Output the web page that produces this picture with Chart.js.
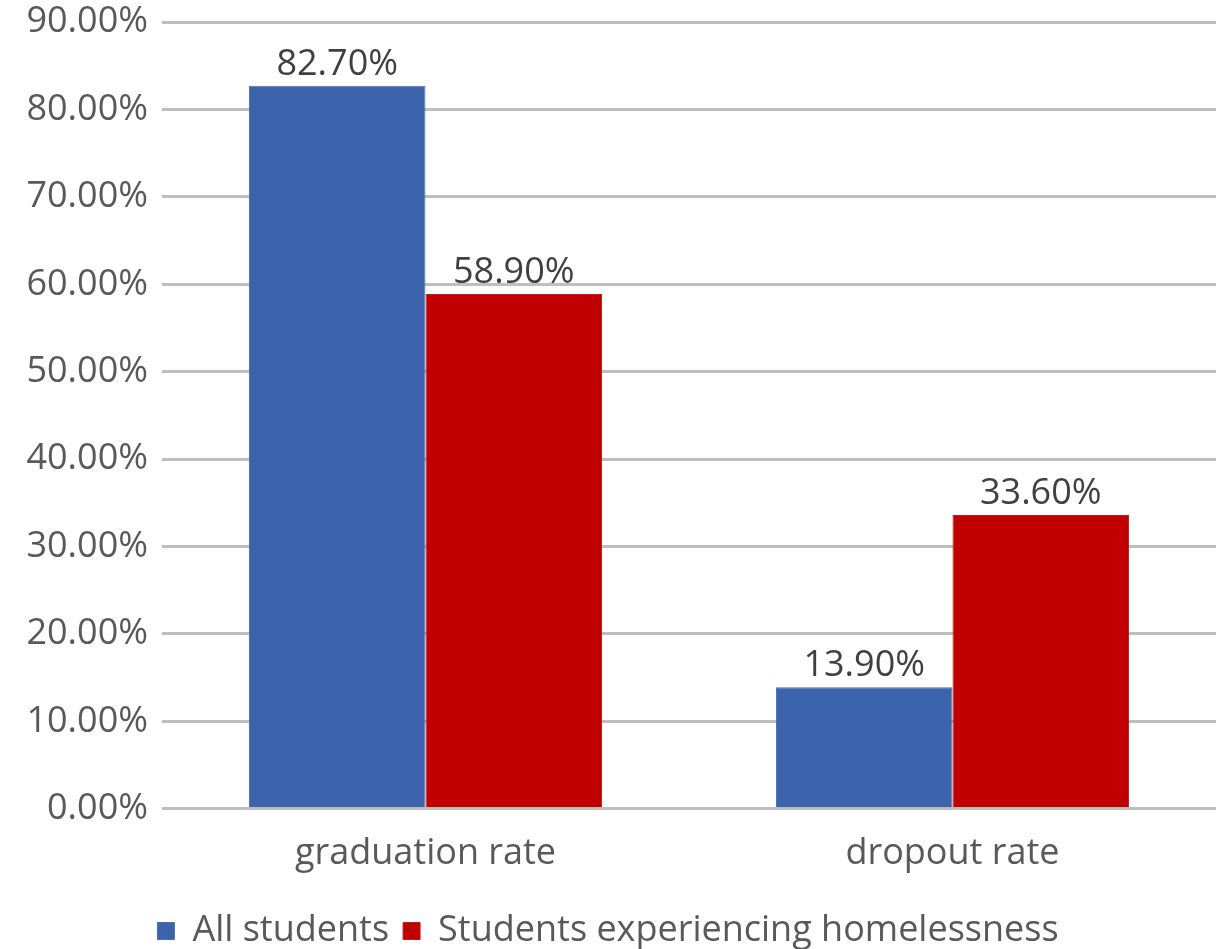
<!DOCTYPE html>
<html>
<head>
<meta charset="utf-8">
<script src="https://cdn.jsdelivr.net/npm/chart.js@4/dist/chart.umd.min.js"></script>
<style>
    html, body { margin: 0; padding: 0; background: #fff; overflow: hidden; }
    #wrap { width: 1230px; height: 959px; }
</style>
</head>
<body>
<div id="wrap"><canvas id="rateChart"></canvas></div>
<script>
var categories = ['graduation rate', 'dropout rate'];
var allStudents = [82.7, 13.9];
var homelessStudents = [58.9, 33.6];
var seriesNames = ['All students', 'Students experiencing homelessness'];
var yTicks = [0, 10, 20, 30, 40, 50, 60, 70, 80, 90];

var FONT = "'Open Sans', 'Noto Sans', sans-serif";
var FSIZE = 36;

// подписи над столбцами
var barLabels = {
    id: 'barLabels',
    afterDatasetsDraw: function (chart) {
        var ctx = chart.ctx;
        ctx.save();
        ctx.font = FSIZE + 'px ' + FONT;
        ctx.fillStyle = '#404040';
        ctx.textAlign = 'center';
        ctx.textBaseline = 'alphabetic';
        chart.data.datasets.forEach(function (ds, i) {
            chart.getDatasetMeta(i).data.forEach(function (bar, j) {
                ctx.fillText(ds.data[j].toFixed(2) + '%', bar.x, bar.y - 11);
            });
        });
        ctx.restore();
    }
};

var ctx = document.getElementById('rateChart');
var rateChart = new Chart(ctx, {
    type: 'bar',
    data: {
        labels: categories,
        datasets: [
            {
                label: seriesNames[0],
                data: allStudents,
                backgroundColor: '#3C64AC',
                borderColor: '#4A6FB2',
                borderWidth: 1
            },
            {
                label: seriesNames[1],
                data: homelessStudents,
                backgroundColor: '#C00000',
                borderColor: '#C41A1A',
                borderWidth: 1
            }]
    },
    options: {
        responsive: true,
        maintainAspectRatio: false,
        animation: false,
        layout: { padding: { top: 0, right: 14, left: 0, bottom: 0 } },
        datasets: { bar: { categoryPercentage: 0.67, barPercentage: 1.0 } },
        plugins: {
            legend: {
                position: 'bottom',
                labels: {
                    font: { family: FONT, size: FSIZE },
                    color: '#595959',
                    boxWidth: 17,
                    boxHeight: 17,
                    padding: 14
                }
            },
            tooltip: { enabled: false }
        },
        scales: {
            x: {
                afterFit: function (axis) { axis.height += 9; },
                grid: { display: false },
                border: { display: false },
                ticks: {
                    font: { family: FONT, size: FSIZE },
                    color: '#595959',
                    padding: 15
                }
            },
            y: {
                min: 0,
                max: 90,
                afterBuildTicks: function (axis) {
                    axis.ticks = yTicks.map(function (v) { return { value: v }; });
                },
                afterFit: function (axis) {
                    axis.width = 162;
                    axis.paddingTop = 22;
                },
                grid: { color: '#BFBFBF', lineWidth: 3, drawTicks: false },
                border: { display: false },
                ticks: {
                    font: { family: FONT, size: FSIZE },
                    color: '#595959',
                    padding: 14,
                    callback: function (v) { return v.toFixed(2) + '%'; }
                }
            }
        }
    },
    plugins: [barLabels]
});
</script>
</body>
</html>
